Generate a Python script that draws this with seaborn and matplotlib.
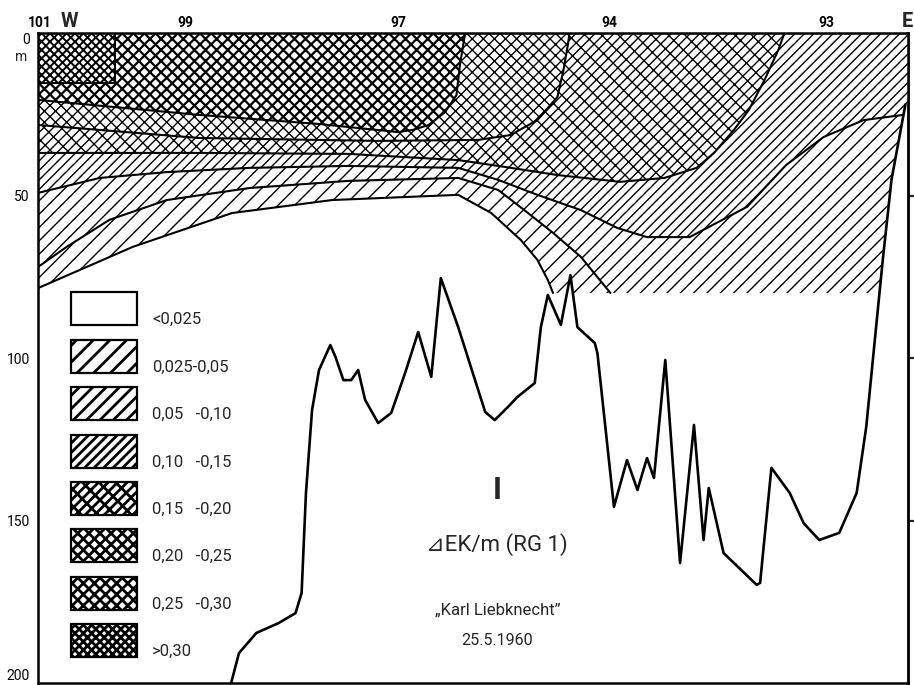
import numpy as np
import matplotlib
matplotlib.use("Agg")
import matplotlib.pyplot as plt
from matplotlib.patches import Patch, Polygon, Rectangle
from matplotlib.legend_handler import HandlerPatch
import seaborn as sns

# stations along the section (distance units 0..100, W -> E)
stations = ["101", "99", "97", "94", "93"]
station_x = [0.2, 16.9, 41.4, 65.7, 90.6]

# class labels of the legend (lowest to highest)
classes = ["<0,025", "0,025-0,05", "0,05   -0,10", "0,10   -0,15",
           "0,15   -0,20", "0,20   -0,25", "0,25   -0,30", ">0,30"]
hatches = ["", "////", "/////", "///////", "///////" + "\\" * 4,
           "xxxxxx", "xxxxxx", "xxxxxxxx"]
hatch_lw = [0.5, 0.5, 0.5, 0.5, 0.5, 0.5, 0.8, 0.7]

# isolines: depth (m) of the lower edge of each class region
c025_x = [0, 10.9, 22.3, 33.8, 48.3, 52.1, 55.5, 57.4, 58.6, 59.2, 100]
c025_d = [78.5, 65.8, 55.4, 51.4, 49.8, 55.4, 63.7, 69.8, 76.0, 80, 80]

c05_x = [0, 3.3, 8.2, 14.8, 24.3, 35.7, 48.3, 52.9, 55.9, 59.2, 62.4, 64.3, 65.8, 100]
c05_d = [72.0, 65.8, 57.5, 51.4, 47.7, 45.5, 44.6, 48.3, 54.5, 61.5, 68.9, 75.1, 80, 80]

c10_x = [0, 7.1, 14.8, 24.3, 35.7, 48.3, 52.9, 57.4, 62.4, 66.6, 70.0, 74.9,
         81.5, 86.0, 90.3, 94.9, 100]
c10_d = [49.2, 44.6, 42.8, 41.5, 40.9, 41.5, 45.2, 49.8, 54.5, 60.0, 62.8, 62.8,
         53.5, 40.6, 32.0, 26.8, 25.0]

c15_x = [0, 18.5, 35.7, 48.3, 52.9, 59.7, 66.9, 72.0, 75.7, 77.7, 80.0, 81.7,
         83.5, 85.1, 85.8, 100]
c15_d = [36.9, 36.9, 37.2, 39.1, 40.9, 43.7, 45.8, 44.6, 41.5, 36.9, 29.8, 23.7,
         14.5, 5.2, 0, 0]

c20_x = [0, 18.5, 39.1, 50.6, 54.3, 57.4, 59.7, 60.4, 60.9, 61.1, 100]
c20_d = [28.3, 32.3, 33.2, 32.9, 31.4, 26.8, 19.7, 11.4, 3.7, 0, 0]

c25_x = [0, 18.5, 32.3, 41.4, 43.1, 44.9, 46.8, 48.1, 48.5, 49.1, 100]
c25_d = [20.6, 25.2, 28.0, 30.5, 29.8, 28.3, 24.3, 19.1, 9.8, 0, 0]

c30_x = [0, 8.8, 8.8, 100]
c30_d = [15.4, 15.4, 0, 0]

# outlined profile line
prof_x = [22.2, 23.1, 25.1, 27.7, 29.6, 30.3, 30.8, 31.5, 32.3, 33.6, 34.2, 35.1,
          36.0, 36.8, 37.6, 39.1, 40.6, 42.2, 43.7, 45.2, 46.3, 48.3, 51.4, 52.5,
          54.0, 55.1, 57.1, 57.8, 58.6, 60.1, 61.2, 62.0, 64.0, 64.3, 66.2, 67.7,
          68.9, 70.0, 70.8, 72.1, 73.8, 75.4, 76.5, 77.1, 78.8, 82.6, 83.0, 84.3,
          86.4, 88.0, 89.8, 92.1, 94.1, 95.2, 96.3, 97.1, 98.1, 99.7]
prof_d = [200, 190.8, 184.6, 181.5, 178.5, 172.3, 141.5, 116.0, 103.7, 96.0, 99.7, 106.8,
          106.8, 103.7, 112.9, 120.0, 116.9, 104.6, 92.0, 105.8, 75.4, 90.5, 116.6, 119.1,
          115.1, 112.0, 107.7, 90.5, 80.6, 89.8, 74.5, 90.5, 95.4, 98.5, 145.8, 131.4,
          140.6, 130.8, 136.9, 100.6, 163.1, 120.6, 156.0, 140.0, 160.0, 169.8, 169.2, 133.8,
          141.5, 150.8, 156.0, 153.8, 141.5, 121.2, 91.4, 69.8, 45.2, 22.0]

isolines = [(c025_x, c025_d), (c05_x, c05_d), (c10_x, c10_d), (c15_x, c15_d),
            (c20_x, c20_d), (c25_x, c25_d), (c30_x, c30_d)]

sns.set_theme(style="white")
plt.rcParams["font.family"] = ["Roboto", "DejaVu Sans"]

fig = plt.figure(figsize=(4.57, 3.425), dpi=200)
ax = fig.add_axes([38 / 914, 2 / 685, 870 / 914, 650 / 685])

# clip everything to the west of the eastern flank of the profile line
east = [(x, d) for x, d in zip(prof_x, prof_d) if x >= 94]
clip_pts = [(0, -1), (101, -1), (101, east[-1][1])] + east[::-1] + [(0, east[0][1])]
clip = Polygon(np.array(clip_pts), closed=True, transform=ax.transData)

for (cx, cd), h, hl in zip(isolines, hatches[1:], hatch_lw[1:]):
    px = [cx[0]] + list(cx) + [cx[-1]]
    pd_ = [0] + list(cd) + [0]
    with plt.rc_context({"hatch.linewidth": hl}):
        polys = ax.fill(px, pd_, facecolor="white", edgecolor="black", hatch=h,
                        linewidth=0, zorder=1)
    for p in polys:
        if hasattr(p, "set_hatch_linewidth"):
            p.set_hatch_linewidth(hl)
        p.set_clip_path(clip)

for cx, cd in isolines:
    xs, ds = list(cx), list(cd)
    if cx is c025_x or cx is c05_x:
        k = ds.index(80)
        xs, ds = xs[:k + 1], ds[:k + 1]
    line, = ax.plot(xs, ds, color="black", linewidth=0.75, zorder=2)
    line.set_clip_path(clip)

sns.lineplot(x=prof_x, y=prof_d, sort=False, estimator=None, color="black",
             linewidth=0.95, ax=ax, zorder=3)

ax.set_xlim(0, 100)
ax.set_ylim(200, 0)
for s in ax.spines.values():
    s.set_visible(True)
    s.set_linewidth(0.9)
    s.set_color("black")

ax.xaxis.tick_top()
ax.set_xticks(station_x, stations)
ax.tick_params(axis="x", direction="in", length=2, width=0.6, pad=1.2,
               labelsize=5, colors="black")
ax.set_yticks([0, 50, 100, 150, 200], ["0", "50", "100", "150", "200"])
ax.tick_params(axis="y", direction="in", length=5, width=0.8, pad=3,
               labelsize=5, colors="black")
for lab in ax.get_xticklabels():
    lab.set_fontweight("bold")
ylabs = ax.get_yticklabels()
ylabs[0].set_va("top")
ylabs[-1].set_va("bottom")

sec = ax.secondary_yaxis("right")
sec.set_yticks([50, 100, 150])
sec.tick_params(axis="y", direction="out", length=2.5, width=0.8, labelright=False)
sec.spines["right"].set_linewidth(0.9)

ax.text(3.6, 1.009, "W", transform=ax.get_xaxis_transform(), ha="center",
        va="baseline", fontsize=7.2, fontweight="bold")
ax.text(100.6, 1.009, "E", transform=ax.get_xaxis_transform(), ha="right",
        va="baseline", fontsize=7.2, fontweight="bold", clip_on=False)
ax.text(-0.012, 7.5, "m", transform=ax.get_yaxis_transform(), ha="right",
        va="center", fontsize=5)

ax.text(52.8, 140.6, "I", ha="center", va="center", fontsize=11, fontweight="bold")
ax.text(52.8, 157.5, "\u22bfEK/m (RG 1)", ha="center", va="center", fontsize=8)
ax.text(52.8, 177.5, "\u201eKarl Liebknecht\u201d", ha="center", va="center", fontsize=6)
ax.text(52.8, 186.8, "25.5.1960", ha="center", va="center", fontsize=5.8)


def legend_box(legend, orig_handle, xdescent, ydescent, width, height, fontsize):
    w, h = 23.8, 11.9
    y0 = -ydescent + height / 2 - h / 2 + 3.6
    return Rectangle((-xdescent, y0), w, h)


handles = []
for h, hl in zip(hatches, hatch_lw):
    with plt.rc_context({"hatch.linewidth": hl}):
        handles.append(Patch(facecolor="white", edgecolor="black", hatch=h,
                             linewidth=0.8))
ax.legend(handles, classes, loc="upper left", bbox_to_anchor=(0.038, 0.58),
          frameon=False, fontsize=6, handlelength=3.97, handleheight=2.0,
          labelspacing=1.3, handletextpad=0.9, borderpad=0, borderaxespad=0,
          handler_map={Patch: HandlerPatch(patch_func=legend_box)})

fig.savefig("out.png", dpi=200, facecolor="white")
